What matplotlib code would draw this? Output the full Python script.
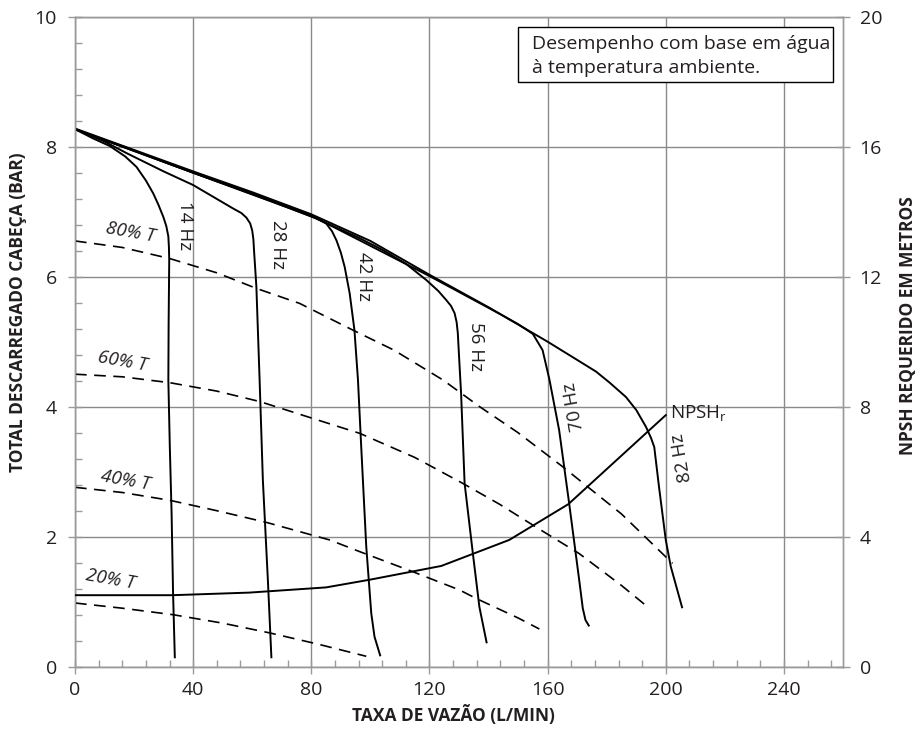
import matplotlib
matplotlib.use("Agg")
import matplotlib.pyplot as plt
from matplotlib import font_manager
from matplotlib.patches import Rectangle
from matplotlib.ticker import MultipleLocator

# ---------------- data ----------------
# pump curves (x = flow L/min, y = head bar)
hz82_x = [0, 20, 40, 60, 80, 100, 120, 140, 160, 170, 176.4, 181, 186.5, 190, 193.3, 195, 196.1, 197.7, 200, 201.7, 205.6]
hz82_y = [8.28, 7.95, 7.62, 7.30, 6.96, 6.55, 6.03, 5.53, 5.0, 4.72, 4.54, 4.37, 4.15, 3.95, 3.69, 3.52, 3.38, 2.77, 1.95, 1.54, 0.90]

hz70_x = [0, 40, 80, 120, 143.7, 150, 155, 158.3, 160.6, 163.9, 167.3, 170.7, 171.9, 172.8, 174.1]
hz70_y = [8.27, 7.60, 6.94, 6.01, 5.43, 5.27, 5.12, 4.87, 4.42, 3.64, 2.51, 1.33, 0.9, 0.72, 0.62]

hz56_x = [0, 40, 80, 96, 104.2, 112, 118.9, 123, 125.7, 127.3, 128.5, 129.2, 129.6, 130.2, 130.7, 131.9, 134.7, 136.9, 139.4]
hz56_y = [8.27, 7.60, 6.93, 6.60, 6.41, 6.2, 5.95, 5.78, 5.64, 5.55, 5.44, 5.3, 5.13, 4.62, 4.21, 2.82, 1.74, 0.92, 0.36]

hz42_x = [0, 20, 40, 60, 78, 82, 85, 87, 88.5, 90, 91.3, 93, 94.6, 95.8, 96.9, 98.6, 100.3, 101.4, 103.4]
hz42_y = [8.27, 7.94, 7.60, 7.28, 6.96, 6.89, 6.82, 6.7, 6.56, 6.37, 6.15, 5.74, 5.18, 4.41, 3.38, 1.85, 0.82, 0.46, 0.16]

hz28_x = [0, 10, 17.5, 30, 40, 53.5, 56.3, 58, 59.3, 60, 60.4, 60.6, 61.4, 62.5, 63.6, 65.3, 66.5]
hz28_y = [8.27, 8.08, 7.9, 7.62, 7.41, 7.05, 6.98, 6.91, 6.82, 6.71, 6.57, 6.41, 5.85, 4.41, 2.87, 1.33, 0.13]

hz14_x = [0, 6, 11.8, 17, 20.8, 24, 26.5, 28.3, 29.9, 30.9, 31.6, 31.8, 31.9, 31.7, 31.6, 32.1, 32.7, 33.2, 33.8]
hz14_y = [8.27, 8.13, 8.01, 7.85, 7.69, 7.48, 7.28, 7.1, 6.92, 6.78, 6.62, 6.45, 6.26, 5.3, 4.41, 3.38, 2.36, 1.13, 0.13]

hz_labels = ["14 Hz", "28 Hz", "42 Hz", "56 Hz", "70 Hz", "82 Hz"]
hz_label_x = [37.2, 68.7, 98.0, 135.6, 169.0, 205.4]
hz_label_y = [6.79, 6.50, 6.00, 4.93, 4.00, 3.22]
hz_label_rot = [270, 270, 270, 270, 100, 100]

# constant % T curves (dashed)
t80_x = [0, 16, 32, 48, 61.4, 76, 94, 108, 124.6, 137, 150, 165, 185, 200, 202.3]
t80_y = [6.55, 6.45, 6.28, 6.06, 5.82, 5.59, 5.18, 4.87, 4.41, 4.0, 3.6, 3.08, 2.35, 1.69, 1.59]
t60_x = [0, 16, 32, 48, 62.5, 86, 96.4, 115, 131.3, 143.7, 156, 170.7, 185, 194.4]
t60_y = [4.5, 4.46, 4.37, 4.24, 4.08, 3.74, 3.59, 3.22, 2.82, 2.5, 2.15, 1.74, 1.25, 0.9]
t40_x = [0, 16, 32.1, 48, 64.8, 86.2, 96.4, 115, 130.2, 135.8, 150, 157.2]
t40_y = [2.76, 2.68, 2.56, 2.4, 2.22, 1.95, 1.77, 1.45, 1.18, 1.05, 0.75, 0.58]
t20_x = [0, 16, 33.2, 50, 65.9, 82, 98.6]
t20_y = [0.98, 0.9, 0.80, 0.67, 0.52, 0.35, 0.16]

t_labels = ["80% T", "60% T", "40% T", "20% T"]
t_label_x = [18.6, 16.0, 17.2, 12.1]
t_label_y = [6.68, 4.69, 2.86, 1.35]

# NPSHr (metres, right axis)
npsh_x = [0, 33, 59, 85, 100, 124, 147, 167, 200]
npsh_y = [2.2, 2.2, 2.28, 2.44, 2.68, 3.1, 3.9, 5.0, 7.74]

x_ticks = [0, 40, 80, 120, 160, 200, 240]
y_ticks = [0, 2, 4, 6, 8, 10]
y2_ticks = [0, 4, 8, 12, 16, 20]

# ---------------- fonts ----------------
names = {f.name for f in font_manager.fontManager.ttflist}
base_font = "Open Sans" if "Open Sans" in names else "DejaVu Sans"
if "Liberation Sans Narrow" in names:
    label_font, label_size = "Liberation Sans Narrow", 15
else:
    label_font, label_size = base_font, 12.5
plt.rcParams["font.family"] = [base_font, "DejaVu Sans"]
plt.rcParams["mathtext.fontset"] = "custom"
plt.rcParams["mathtext.rm"] = base_font
plt.rcParams["mathtext.it"] = base_font + ":italic"

txt_color = "#231f20"
grid_color = "#8a8a8a"
spine_color = "#9a9a9a"

fig = plt.figure(figsize=(9.21, 7.38), dpi=100)
ax = fig.add_axes([75 / 921, (738 - 666.7) / 738, 768 / 921, 650 / 738])
ax.set_xlim(0, 260)
ax.set_ylim(0, 10)

for s in ax.spines.values():
    s.set_color(spine_color)
    s.set_linewidth(1.0)

ax.set_xticks(x_ticks)
ax.set_yticks(y_ticks)
ax.xaxis.set_minor_locator(MultipleLocator(8))
ax.yaxis.set_minor_locator(MultipleLocator(0.4))
ax.tick_params(axis="both", which="major", direction="inout", length=10, width=1,
               color=spine_color, labelsize=14, labelcolor=txt_color)
ax.tick_params(axis="x", which="major", pad=5)
ax.tick_params(axis="y", which="major", pad=8)
ax.tick_params(axis="both", which="minor", direction="in", length=5, width=1, color=spine_color)
ax.tick_params(top=False, right=False, which="both")
ax.grid(True, which="major", color=grid_color, linewidth=1.0)
ax.set_axisbelow(True)

lw = 1.4
for xs, ys in [(hz14_x, hz14_y), (hz28_x, hz28_y), (hz42_x, hz42_y),
               (hz56_x, hz56_y), (hz70_x, hz70_y), (hz82_x, hz82_y)]:
    ax.plot(xs, ys, color="black", lw=lw, solid_capstyle="butt",
            solid_joinstyle="round", zorder=3)

for xs, ys in [(t80_x, t80_y), (t60_x, t60_y), (t40_x, t40_y), (t20_x, t20_y)]:
    ax.plot(xs, ys, color="black", lw=1.2, dashes=(7, 4.5), zorder=3)

for i, lab in enumerate(hz_labels):
    ax.text(hz_label_x[i], hz_label_y[i], lab, rotation=hz_label_rot[i], ha="center", va="center",
            rotation_mode="anchor", fontsize=13.5, color=txt_color, zorder=4)

for i, lab in enumerate(t_labels):
    ax.text(t_label_x[i], t_label_y[i], lab, rotation=-10, ha="center", va="center",
            rotation_mode="anchor", fontsize=13.5, style="italic", color=txt_color, zorder=4)

# right axis NPSH
ax2 = ax.twinx()
ax2.set_ylim(0, 20)
ax2.set_yticks(y2_ticks)
for s in ax2.spines.values():
    s.set_color(spine_color)
    s.set_linewidth(1.0)
ax2.tick_params(axis="y", which="major", direction="inout", length=10, width=1,
                color=spine_color, labelsize=14, labelcolor=txt_color, pad=7)
ax2.plot(npsh_x, npsh_y, color="black", lw=lw, solid_joinstyle="round", zorder=3)
ax2.text(201.6, 7.66, r"NPSH$_{\mathrm{r}}$", ha="left", va="baseline",
         fontsize=13.5, color=txt_color)

# note box
ax2.add_patch(Rectangle((0.5768, 0.8995), 0.410, 0.0846, transform=ax.transAxes,
                        facecolor="white", edgecolor="black", linewidth=1.0, zorder=5))
ax2.text(0.5954, 0.9503, "Desempenho com base em água", transform=ax.transAxes,
         ha="left", va="baseline", fontsize=14, color=txt_color, zorder=6)
ax2.text(0.5954, 0.9134, "à temperatura ambiente.", transform=ax.transAxes,
         ha="left", va="baseline", fontsize=14, color=txt_color, zorder=6)

# axis titles
fig.text(18 / 921, 1 - 312 / 738, "TOTAL DESCARREGADO CABEÇA (BAR)", rotation=90,
         ha="center", va="center", fontsize=label_size, fontweight="bold",
         family=[label_font, "DejaVu Sans"], color=txt_color)
fig.text(908 / 921, 1 - 326 / 738, "NPSH REQUERIDO EM METROS", rotation=90,
         ha="center", va="center", fontsize=label_size, fontweight="bold",
         family=[label_font, "DejaVu Sans"], color=txt_color)
fig.text(453 / 921, 1 - 715 / 738, "TAXA DE VAZÃO (L/MIN)",
         ha="center", va="center", fontsize=label_size, fontweight="bold",
         family=[label_font, "DejaVu Sans"], color=txt_color)

fig.savefig("out.png", dpi=100, facecolor="white")
